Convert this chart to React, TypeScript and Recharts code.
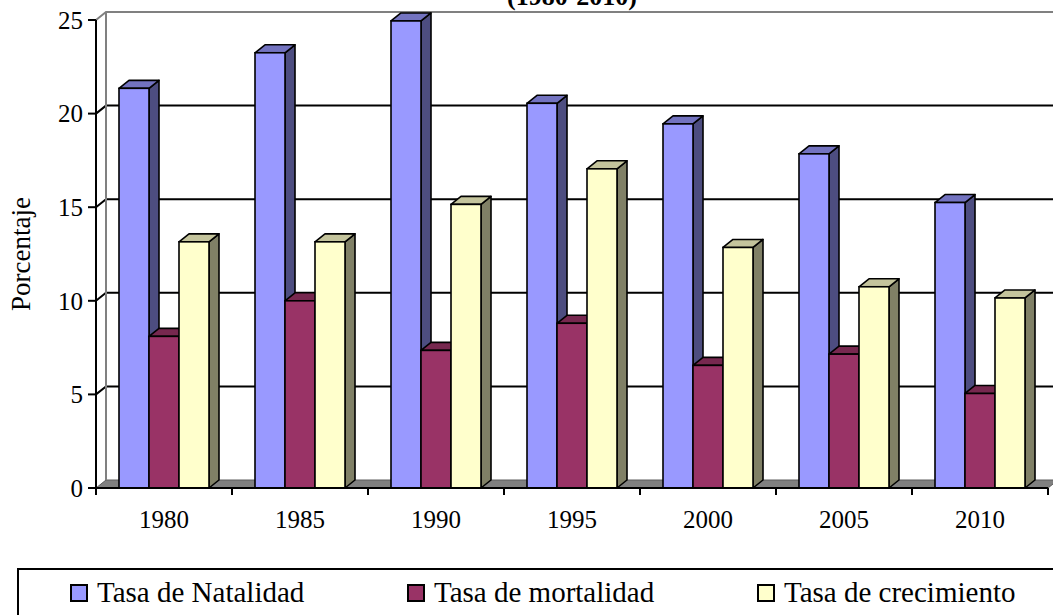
import { BarChart, Bar, XAxis, YAxis, CartesianGrid } from 'recharts'

// años y tasas (%)
const years = ['1980', '1985', '1990', '1995', '2000', '2005', '2010']
const natalidad = [21.35, 23.25, 24.95, 20.55, 19.45, 17.85, 15.25]
const mortalidad = [8.1, 10.0, 7.35, 8.8, 6.55, 7.15, 5.05]
const crecimiento = [13.15, 13.15, 15.15, 17.05, 12.85, 10.75, 10.15]
const yTicks = [0, 5, 10, 15, 20, 25]

const series = [
  { key: 'natalidad', name: 'Tasa de Natalidad', front: '#9999FF', side: '#4D4D80', top: '#7373C0' },
  { key: 'mortalidad', name: 'Tasa de mortalidad', front: '#993366', side: '#4D1A33', top: '#77284F' },
  { key: 'crecimiento', name: 'Tasa de crecimiento', front: '#FFFFCC', side: '#808066', top: '#C4C49C' },
]

const chartData = years.map((year, i) => ({
  year,
  natalidad: natalidad[i],
  mortalidad: mortalidad[i],
  crecimiento: crecimiento[i],
}))

const FONT = '"Liberation Serif", "Times New Roman", serif'
const W = 1053
const H = 615
const PLOT_TOP = 20
const PLOT_BOTTOM = 488
const PLOT_LEFT = 96
const PLOT_RIGHT = 1048
const HALF = (PLOT_RIGHT - PLOT_LEFT) / years.length / 2
// profundidad del efecto 3D
const DX = 10
const DY = 8

const make3D = (front: string, side: string, top: string) => (p: any) => {
  const { x, y, width, height } = p
  if (height == null || width == null) return <g />
  const r = x + width
  const b = y + height
  return (
    <g>
      <polygon
        points={`${r},${y} ${r + DX},${y - DY} ${r + DX},${b - DY} ${r},${b}`}
        fill={side} stroke="#000" strokeWidth={1.6} strokeLinejoin="round"
      />
      <polygon
        points={`${x},${y} ${x + DX},${y - DY} ${r + DX},${y - DY} ${r},${y}`}
        fill={top} stroke="#000" strokeWidth={1.6} strokeLinejoin="round"
      />
      <rect x={x} y={y} width={width} height={height} fill={front} stroke="#000" strokeWidth={1.6} />
    </g>
  )
}

// líneas de la pared del fondo + piso
const gridLine = (p: any) => {
  const { x1, x2, y1 } = p
  const key = p.key ?? `h-${y1}`
  if (Math.abs(y1 - PLOT_BOTTOM) < 1) {
    return (
      <polygon
        key={key}
        points={`${x1},${y1} ${x1 + DX},${y1 - DY} ${x2 + DX},${y1 - DY} ${x2},${y1}`}
        fill="#808080" stroke="#5c5c5c" strokeWidth={1}
      />
    )
  }
  const isTop = Math.abs(y1 - PLOT_TOP) < 1
  return (
    <g key={key}>
      <path
        d={`M${x1},${y1} L${x1 + DX},${y1 - DY} L${x2 + DX},${y1 - DY}`}
        fill="none" stroke={isTop ? '#808080' : '#000'} strokeWidth={2}
      />
      {isTop && (
        <line x1={x1 + DX} y1={y1 - DY} x2={x1 + DX} y2={PLOT_BOTTOM - DY} stroke="#808080" strokeWidth={2} />
      )}
    </g>
  )
}

const XTick = (p: any) => {
  const { x, payload } = p
  const i = payload?.index ?? p.index
  return (
    <g>
      <line x1={x - HALF} y1={PLOT_BOTTOM} x2={x - HALF} y2={PLOT_BOTTOM + 7} stroke="#000" strokeWidth={2} />
      {i === years.length - 1 && (
        <line x1={x + HALF} y1={PLOT_BOTTOM} x2={x + HALF} y2={PLOT_BOTTOM + 7} stroke="#000" strokeWidth={2} />
      )}
      <text x={x} y={PLOT_BOTTOM + 40} textAnchor="middle" fill="#000" fontSize={25} fontFamily={FONT}>
        {payload.value}
      </text>
    </g>
  )
}

const legendX = [71, 408, 758]

export default function App() {
  return (
    <div style={{ position: 'absolute', left: 0, top: 0, width: W, height: H, overflow: 'hidden', background: '#fff' }}>
      <BarChart
        width={W}
        height={H}
        data={chartData}
        margin={{ top: PLOT_TOP, right: W - PLOT_RIGHT, left: 0, bottom: H - PLOT_BOTTOM - 40 }}
        barGap={0}
        barCategoryGap={23}
      >
        <CartesianGrid vertical={false} horizontal={gridLine} />
        <XAxis
          dataKey="year"
          height={40}
          interval={0}
          axisLine={{ stroke: '#000', strokeWidth: 2 }}
          tickLine={false}
          tick={(p: any) => <XTick {...p} />}
        />
        <YAxis
          width={PLOT_LEFT}
          domain={[0, 25]}
          ticks={yTicks}
          interval={0}
          axisLine={{ stroke: '#000', strokeWidth: 2 }}
          tickLine={{ stroke: '#000', strokeWidth: 2 }}
          tickSize={8}
          tickMargin={5}
          tick={{ fill: '#000', fontSize: 25, fontFamily: FONT }}
        />
        {series.map(s => (
          <Bar
            key={s.key}
            dataKey={s.key}
            name={s.name}
            fill={s.front}
            isAnimationActive={false}
            shape={make3D(s.front, s.side, s.top)}
          />
        ))}
      </BarChart>

      <svg width={W} height={H} style={{ position: 'absolute', left: 0, top: 0, pointerEvents: 'none' }}>
        <text x={572} y={5} textAnchor="middle" fontSize={26} fontWeight="bold" fontFamily={FONT} fill="#000">
          (1980-2010)
        </text>
        <text
          transform="translate(30,254) rotate(-90)"
          textAnchor="middle" fontSize={27} fontFamily={FONT} fill="#000"
        >
          Porcentaje
        </text>
        <rect x={18} y={569} width={1100} height={100} fill="#fff" stroke="#000" strokeWidth={2} />
        {series.map((s, i) => (
          <g key={s.key}>
            <rect x={legendX[i]} y={585} width={16} height={16} fill={s.front} stroke="#000" strokeWidth={2} />
            <text x={legendX[i] + 26} y={602} fontSize={29} fontFamily={FONT} fill="#000">{s.name}</text>
          </g>
        ))}
      </svg>
    </div>
  )
}
